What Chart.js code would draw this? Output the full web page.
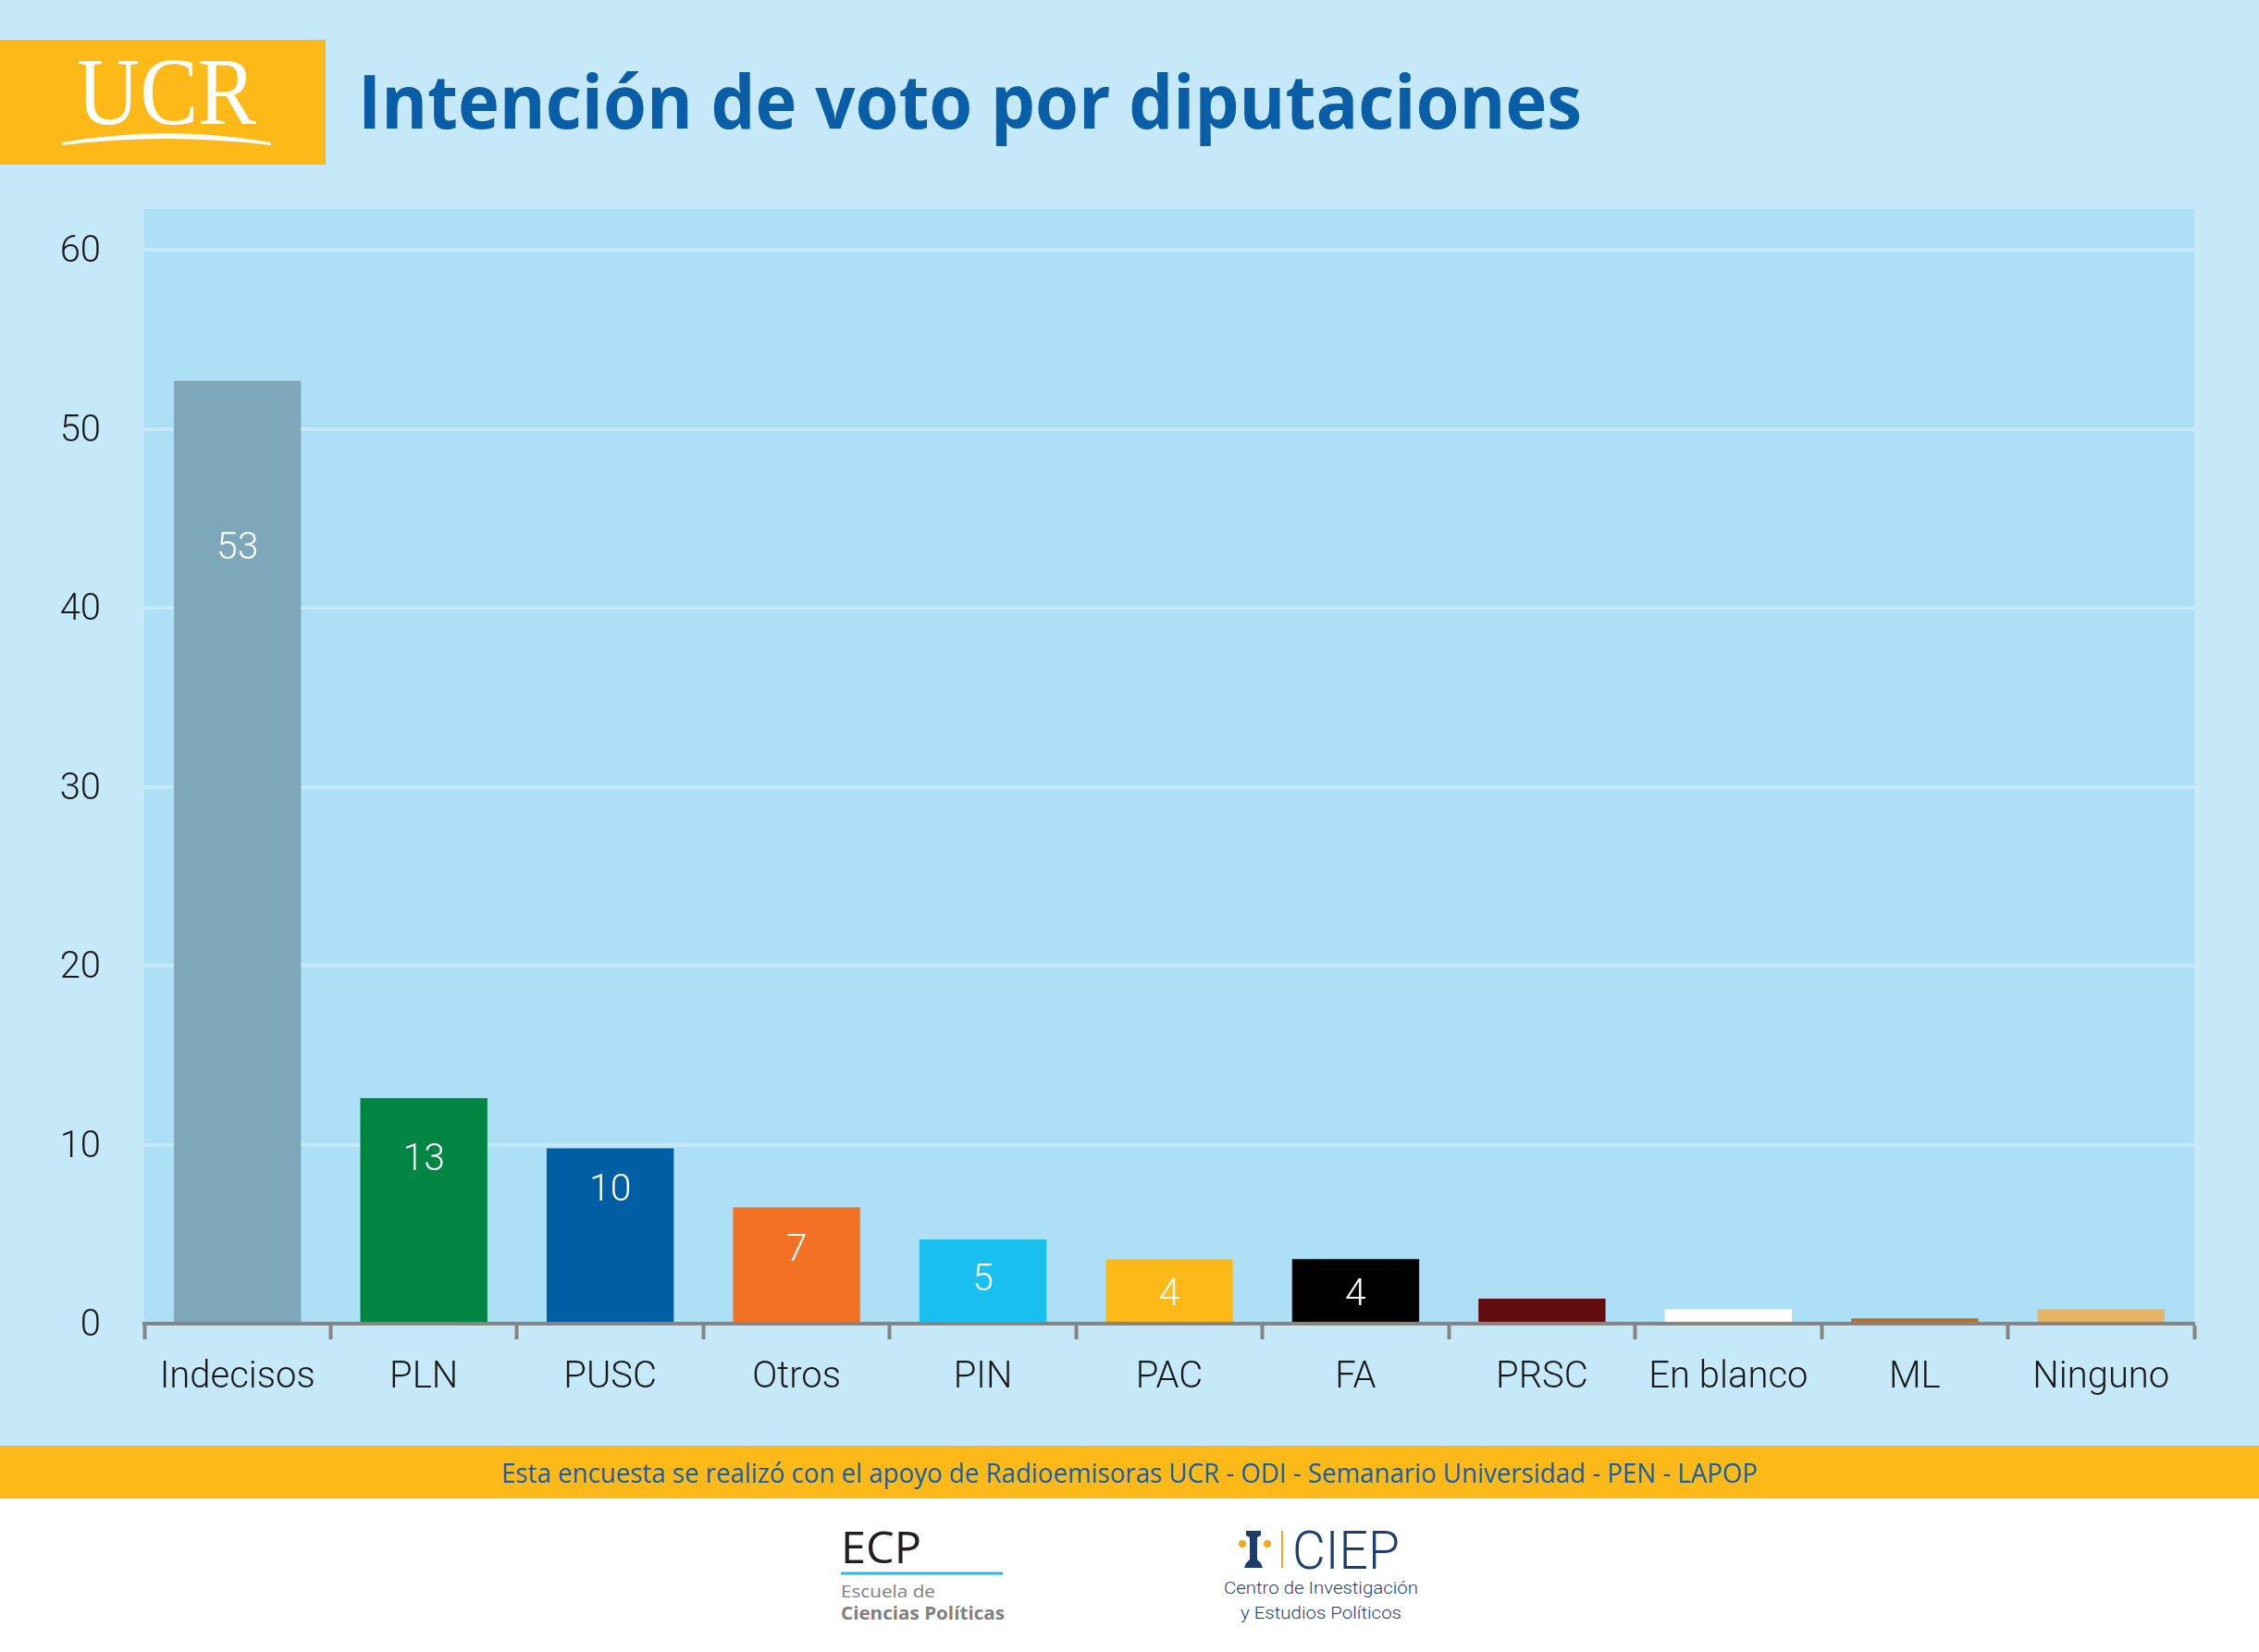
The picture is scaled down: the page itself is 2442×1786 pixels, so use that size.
<!DOCTYPE html>
<html>
<head>
<meta charset="utf-8">
<script src="https://cdn.jsdelivr.net/npm/chart.js@4.4.1/dist/chart.umd.min.js"></script>
<style>
  html, body { margin: 0; padding: 0; width: 2442px; height: 1786px; overflow: hidden; background: #c6e9f9; }
  #bg { position: absolute; left: 0; top: 0; }
  #chart { position: absolute; left: 0; top: 0; }
</style>
</head>
<body>
<svg id="bg" width="2442" height="1786" xmlns="http://www.w3.org/2000/svg">
  <rect x="0" y="0" width="2442" height="1563" fill="#c6e9f9"/>
  <!-- header -->
  <rect x="0" y="43" width="352" height="135" fill="#fdb918"/>
  <text x="83" y="134" font-family="Liberation Serif, DejaVu Serif, serif" font-size="103" fill="#ffffff" textLength="194" lengthAdjust="spacingAndGlyphs">UCR</text>
  <path d="M67,154 Q180,134.5 293,154 L293,157 Q180,143 67,157 Z" fill="#ffffff"/>
  <text x="387" y="139" font-family="Open Sans, Noto Sans, sans-serif" font-weight="700" font-size="81" fill="#0a5ea8" textLength="1323" lengthAdjust="spacingAndGlyphs">Intención de voto por diputaciones</text>
  <!-- footer -->
  <rect x="0" y="1563" width="2442" height="57" fill="#fdb918"/>
  <text x="542" y="1603" font-family="Open Sans, Noto Sans, sans-serif" font-size="29" fill="#1560a8" textLength="1358" lengthAdjust="spacingAndGlyphs">Esta encuesta se realizó con el apoyo de Radioemisoras UCR - ODI - Semanario Universidad - PEN - LAPOP</text>
  <rect x="0" y="1620" width="2442" height="166" fill="#ffffff"/>
  <!-- ECP logo -->
  <text x="909" y="1690" font-family="Open Sans, Noto Sans, sans-serif" font-size="48" fill="#231f20" textLength="87" lengthAdjust="spacingAndGlyphs">ECP</text>
  <rect x="909" y="1699.5" width="175" height="3" fill="#29b6ec"/>
  <text x="909" y="1727" font-family="Open Sans, Noto Sans, sans-serif" font-size="19" fill="#808080" textLength="102" lengthAdjust="spacingAndGlyphs">Escuela de</text>
  <text x="909" y="1751" font-family="Open Sans, Noto Sans, sans-serif" font-weight="700" font-size="20" fill="#808080" textLength="177" lengthAdjust="spacingAndGlyphs">Ciencias Políticas</text>
  <!-- CIEP logo -->
  <path d="M1347,1655 L1363,1655 L1363,1660 L1359,1662 L1359,1686 L1363,1690 L1365,1695 L1345,1695 L1347,1690 L1351,1686 L1351,1662 L1347,1660 Z" fill="#1a3d6e"/>
  <circle cx="1343" cy="1669" r="4" fill="#f5a81c"/>
  <circle cx="1370" cy="1669" r="4" fill="#f5a81c"/>
  <rect x="1385" y="1655" width="2" height="40" fill="#f5a81c"/>
  <text x="1397" y="1696" font-family="Roboto, sans-serif" font-weight="300" font-size="57" fill="#1b3f73" textLength="116" lengthAdjust="spacingAndGlyphs">CIEP</text>
  <text x="1428" y="1723" text-anchor="middle" font-family="Roboto, sans-serif" font-weight="300" font-size="18" fill="#1b3f73" textLength="210" lengthAdjust="spacingAndGlyphs">Centro de Investigación</text>
  <text x="1428" y="1750" text-anchor="middle" font-family="Roboto, sans-serif" font-weight="300" font-size="18" fill="#1b3f73" textLength="174" lengthAdjust="spacingAndGlyphs">y Estudios Políticos</text>
</svg>
<canvas id="chart" width="2442" height="1786"></canvas>
<script>
// ---- data ----
const categories = ["Indecisos", "PLN", "PUSC", "Otros", "PIN", "PAC", "FA", "PRSC", "En blanco", "ML", "Ninguno"];
const values = [52.7, 12.6, 9.8, 6.5, 4.7, 3.6, 3.6, 1.4, 0.8, 0.3, 0.8];
const valueLabels = ["53", "13", "10", "7", "5", "4", "4", "", "", "", ""];
const yTickValues = [0, 10, 20, 30, 40, 50, 60];

// ---- styles ----
const barColors = ["#7fa7bb", "#008542", "#005ea5", "#f37124", "#18bfef", "#fdb918", "#000000", "#640d0e", "#ffffff", "#b5722c", "#e5b466"];
const labelFrac = [0.826, 0.739, 0.776, 0.66, 0.56, 0.5, 0.5, 0.5, 0.5, 0.5, 0.5];

const plotBg = {
  id: 'plotBg',
  beforeDraw(chart) {
    const { ctx, chartArea: a } = chart;
    ctx.save();
    ctx.fillStyle = '#ade0f7';
    ctx.fillRect(a.left, a.top, a.right - a.left, a.bottom - a.top);
    ctx.restore();
  }
};

const barLabels = {
  id: 'barLabels',
  afterDatasetsDraw(chart) {
    const { ctx } = chart;
    const meta = chart.getDatasetMeta(0);
    const y = chart.scales.y;
    const size = 41;
    ctx.save();
    ctx.fillStyle = '#ffffff';
    ctx.font = '300 ' + size + 'px Roboto';
    ctx.textAlign = 'center';
    ctx.textBaseline = 'alphabetic';
    meta.data.forEach((bar, i) => {
      if (!valueLabels[i]) return;
      const py = y.getPixelForValue(values[i] * labelFrac[i]);
      ctx.fillText(valueLabels[i], bar.x, py + size * 0.355);
    });
    ctx.restore();
  }
};

function draw() {
  new Chart(document.getElementById('chart'), {
    type: 'bar',
    data: {
      labels: categories,
      datasets: [{
        data: values,
        backgroundColor: barColors,
        borderWidth: 0,
        barPercentage: 0.682,
        categoryPercentage: 1
      }]
    },
    options: {
      responsive: false,
      animation: false,
      devicePixelRatio: 1,
      layout: { padding: { top: 226, right: 70, left: 0, bottom: 0 } },
      plugins: { legend: { display: false }, tooltip: { enabled: false }, title: { display: false } },
      scales: {
        x: {
          z: 1,
          offset: true,
          grid: { display: true, offset: true, drawOnChartArea: false, drawTicks: true, tickLength: 17, tickWidth: 4, tickColor: '#858585' },
          border: { display: true, color: '#858585', width: 4 },
          ticks: { font: { family: 'Roboto', size: 40, weight: '300' }, color: '#1a1a1a', padding: 18, maxRotation: 0, autoSkip: false },
          afterFit(s) { s.height = 355; }
        },
        y: {
          min: 0,
          max: 62.3,
          afterBuildTicks(s) { s.ticks = yTickValues.map(v => ({ value: v })); },
          grid: { color: '#c6e9f9', lineWidth: 4, drawTicks: false },
          border: { display: false },
          ticks: { font: { family: 'Roboto', size: 40, weight: '300' }, color: '#1a1a1a', padding: 47, labelOffset: 3 },
          afterFit(s) { s.width = 156; }
        }
      }
    },
    plugins: [plotBg, barLabels]
  });
}

Promise.all([
  document.fonts.load('40px Roboto'),
  document.fonts.load('300 40px Roboto'),
  document.fonts.load('700 81px "Open Sans"')
]).then(draw, draw);
</script>
</body>
</html>
